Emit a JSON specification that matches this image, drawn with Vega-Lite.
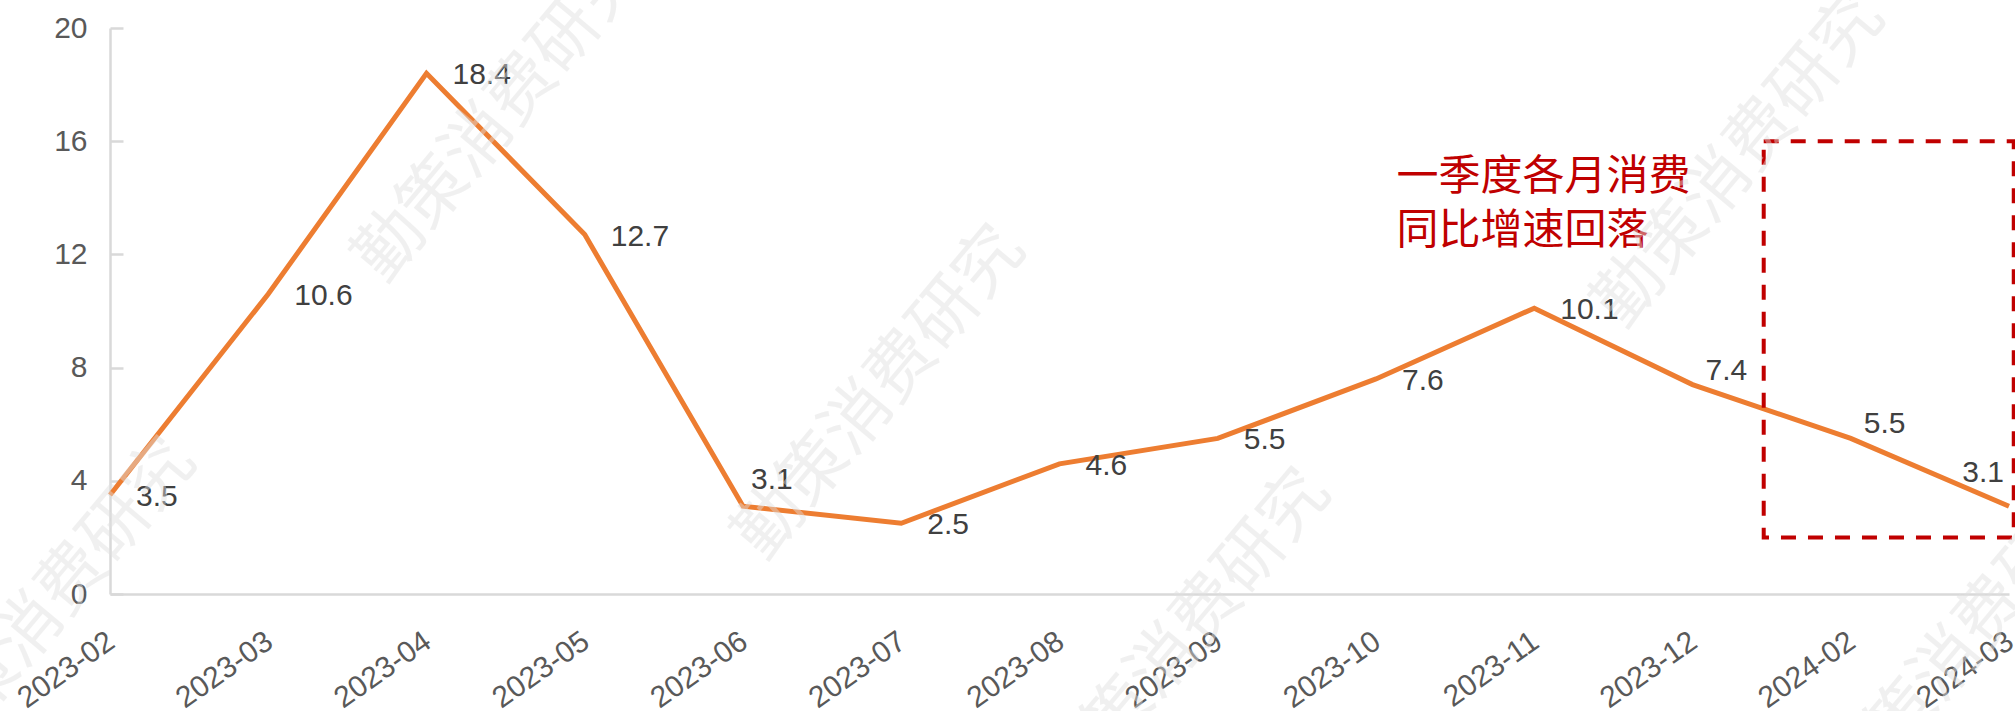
{
  "$schema": "https://vega.github.io/schema/vega-lite/v6.json",
  "width": 1899,
  "height": 566,
  "autosize": {"type": "none"},
  "padding": {"left": 110, "top": 28, "right": 6, "bottom": 117},
  "background": "white",
  "config": {"view": {"stroke": null}},
  "datasets": {
    "main": [
      {"month": "2023-02", "value": 3.5},
      {"month": "2023-03", "value": 10.6},
      {"month": "2023-04", "value": 18.4},
      {"month": "2023-05", "value": 12.7},
      {"month": "2023-06", "value": 3.1},
      {"month": "2023-07", "value": 2.5},
      {"month": "2023-08", "value": 4.6},
      {"month": "2023-09", "value": 5.5},
      {"month": "2023-10", "value": 7.6},
      {"month": "2023-11", "value": 10.1},
      {"month": "2023-12", "value": 7.4},
      {"month": "2024-02", "value": 5.5},
      {"month": "2024-03", "value": 3.1}
    ],
    "watermarks": [
      {"t": "勤策消费研究", "xi": 2.47, "yv": 16.9},
      {"t": "勤策消费研究", "xi": 4.87, "yv": 7.1},
      {"t": "勤策消费研究", "xi": 6.8, "yv": -1.5},
      {"t": "勤策消费研究", "xi": 10.3, "yv": 15.3},
      {"t": "勤策消费研究", "xi": 11.75, "yv": -1.6},
      {"t": "勤策消费研究", "xi": -0.37, "yv": -0.4}
    ],
    "box": [{"x1": 10.45, "x2": 12.03, "y1": 2.0, "y2": 16.0}],
    "note": [
      {"t": "一季度各月消费", "xi": 8.13, "yv": 14.73},
      {"t": "同比增速回落", "xi": 8.13, "yv": 12.83}
    ]
  },
  "layer": [
    {
      "data": {"name": "main"},
      "encoding": {
        "x": {
          "field": "month", "type": "ordinal", "sort": null,
          "scale": {"type": "point", "padding": 0},
          "axis": {"orient": "bottom", "title": null, "labelAngle": -35, "labelAlign": "right", "labelBaseline": "middle", "labelFontSize": 30, "labelFont": "Liberation Sans", "labelColor": "#595959", "ticks": false, "domainColor": "#D9D9D9", "domainWidth": 2.5, "labelPadding": 44, "labelOffset": 1, "grid": false}
        },
        "y": {
          "field": "value", "type": "quantitative",
          "scale": {"domain": [0, 20], "nice": false},
          "axis": {"orient": "left", "title": null, "values": [0, 4, 8, 12, 16, 20], "labelFontSize": 30, "labelFont": "Liberation Sans", "labelColor": "#595959", "domainColor": "#D9D9D9", "domainWidth": 2.5, "tickColor": "#D9D9D9", "tickWidth": 2.5, "tickSize": -13, "labelPadding": 36, "grid": false}
        }
      },
      "layer": [
        {"mark": {"type": "line", "color": "#ED7D31", "strokeWidth": 5}},
        {
          "transform": [{"filter": {"not": {"field": "month", "oneOf": ["2023-06", "2023-12", "2024-02", "2024-03"]}}}],
          "mark": {"type": "text", "font": "Liberation Sans", "fontSize": 30, "color": "#404040", "align": "left", "baseline": "middle", "dx": 26, "dy": 2},
          "encoding": {"text": {"field": "value", "format": ".1f"}}
        },
        {
          "transform": [{"filter": {"field": "month", "oneOf": ["2023-12", "2024-02"]}}],
          "mark": {"type": "text", "font": "Liberation Sans", "fontSize": 30, "color": "#404040", "align": "left", "baseline": "middle", "dx": 13, "dy": -14},
          "encoding": {"text": {"field": "value", "format": ".1f"}}
        },
        {
          "transform": [{"filter": {"field": "month", "oneOf": ["2023-06"]}}],
          "mark": {"type": "text", "font": "Liberation Sans", "fontSize": 30, "color": "#404040", "align": "left", "baseline": "middle", "dx": 8, "dy": -26},
          "encoding": {"text": {"field": "value", "format": ".1f"}}
        },
        {
          "transform": [{"filter": {"field": "month", "oneOf": ["2024-03"]}}],
          "mark": {"type": "text", "font": "Liberation Sans", "fontSize": 30, "color": "#404040", "align": "right", "baseline": "middle", "dx": -5, "dy": -33},
          "encoding": {"text": {"field": "value", "format": ".1f"}}
        }
      ]
    },
    {
      "layer": [
        {
          "data": {"name": "box"},
          "mark": {"type": "rect", "fill": null, "fillOpacity": 0, "stroke": "#C00000", "strokeWidth": 4, "strokeDash": [15, 12]},
          "encoding": {
            "x": {"field": "x1", "type": "quantitative", "scale": {"domain": [0, 12], "nice": false, "zero": false}, "axis": null},
            "x2": {"field": "x2"},
            "y": {"field": "y1", "type": "quantitative", "scale": {"domain": [0, 20], "nice": false, "zero": false}, "axis": null},
            "y2": {"field": "y2"}
          }
        },
        {
          "data": {"name": "note"},
          "mark": {"type": "text", "font": "Noto Sans CJK SC", "fontSize": 42, "color": "#C00000", "align": "left", "baseline": "middle"},
          "encoding": {
            "x": {"field": "xi", "type": "quantitative"},
            "y": {"field": "yv", "type": "quantitative"},
            "text": {"field": "t"}
          }
        },
        {
          "data": {"name": "watermarks"},
          "mark": {"type": "text", "font": "Noto Sans CJK SC", "fontSize": 68, "angle": -50, "color": "#E0E0E0", "opacity": 0.45, "align": "center", "baseline": "middle"},
          "encoding": {
            "x": {"field": "xi", "type": "quantitative"},
            "y": {"field": "yv", "type": "quantitative"},
            "text": {"field": "t"}
          }
        }
      ]
    }
  ],
  "resolve": {"scale": {"x": "independent", "y": "independent"}}
}
